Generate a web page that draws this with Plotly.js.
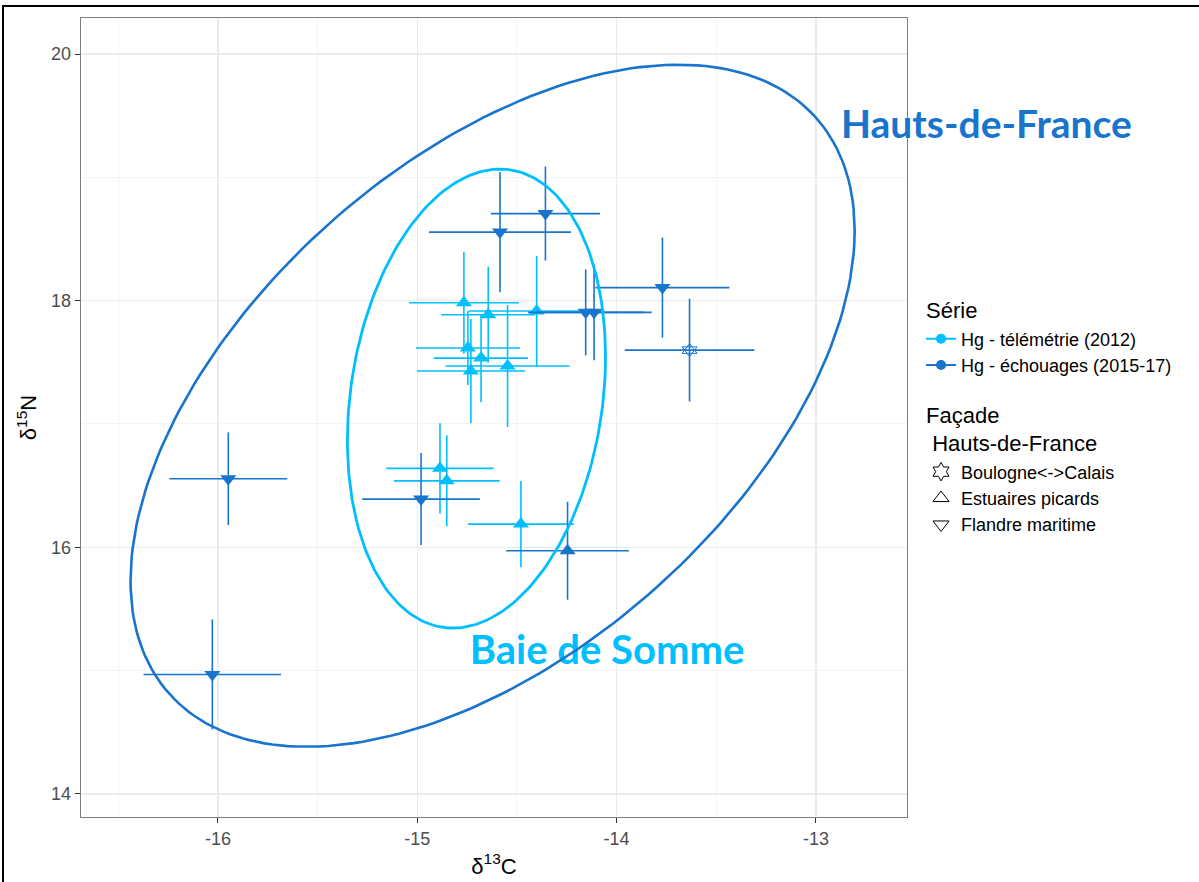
<!DOCTYPE html>
<html>
<head>
<meta charset="utf-8">
<script src="https://cdn.plot.ly/plotly-3.0.1.min.js"></script>
<style>
  html, body { margin: 0; padding: 0; background: #fff; }
  #chart { position: absolute; left: 0; top: 0; width: 1199px; height: 882px; }
  #frame { position: absolute; left: 2px; top: 5px; width: 1300px; height: 1000px;
           border-left: 2px solid #000; border-top: 2px solid #000; pointer-events: none; }
</style>
</head>
<body>
<div id="chart"></div>
<div id="frame"></div>
<script>
// ---- Data (δ13C, δ15N, sd) ----
// Hg - télémétrie (2012), Estuaires picards
const telemX    = [-14.766, -14.644, -14.401, -14.746, -14.680, -14.731, -14.547, -14.886, -14.852, -14.480];
const telemY    = [17.983, 17.886, 17.916, 17.616, 17.534, 17.429, 17.470, 16.640, 16.539, 16.188];
const telemXerr = [0.276, 0.236, 0.341, 0.261, 0.236, 0.271, 0.311, 0.269, 0.265, 0.266];
const telemYerr = [0.414, 0.389, 0.446, 0.300, 0.357, 0.422, 0.495, 0.365, 0.369, 0.349];

// Hg - échouages (2015-17), Flandre maritime
const echFlX    = [-14.981, -14.585, -14.357, -14.155, -14.113, -13.770, -15.948, -16.028];
const echFlY    = [16.391, 18.556, 18.706, 17.905, 17.905, 18.106, 16.556, 14.969];
const echFlXerr = [0.295, 0.356, 0.274, 0.289, 0.289, 0.336, 0.296, 0.345];
const echFlYerr = [0.373, 0.487, 0.381, 0.349, 0.389, 0.406, 0.376, 0.446];

// Hg - échouages (2015-17), Estuaires picards
const echEpX    = [-14.246];
const echEpY    = [15.972];
const echEpXerr = [0.308];
const echEpYerr = [0.397];

// Hg - échouages (2015-17), Boulogne<->Calais
const echBcX    = [-13.634];
const echBcY    = [17.599];
const echBcXerr = [0.325];
const echBcYerr = [0.416];

// Ellipses (centre and covariance [Sxx, Syy, Sxy])
const ellOuterCenter = [-14.622, 17.148];
const ellOuterCov    = [3.2997, 7.648, 2.578];
const ellInnerCenter = [-14.703, 17.206];
const ellInnerCov    = [0.4193, 3.463, 0.2196];

// Labels
const seriesNames = ['Hg - télémétrie (2012)', 'Hg - échouages (2015-17)'];
const siteNames   = ['Boulogne&lt;-&gt;Calais', 'Estuaires picards', 'Flandre maritime'];
const regionLabels = ['Hauts-de-France', 'Baie de Somme'];
const xTicks = [-16, -15, -14, -13];
const yTicks = [14, 16, 18, 20];

const C_LIGHT = '#00BFFF';
const C_DARK  = '#1874CD';

function ellipse(center, cov, n) {
  const sx = Math.sqrt(cov[0]);
  const k = cov[2] / sx;
  const m = Math.sqrt(cov[1] - cov[2] * cov[2] / cov[0]);
  const xs = [], ys = [];
  for (let i = 0; i <= n; i++) {
    const t = 2 * Math.PI * i / n;
    xs.push(center[0] + sx * Math.cos(t));
    ys.push(center[1] + k * Math.cos(t) + m * Math.sin(t));
  }
  return {x: xs, y: ys};
}

function errPts(x, y, xe, ye, color, symbol, size, open) {
  return {
    type: 'scatter', mode: 'markers', x: x, y: y, showlegend: false, hoverinfo: 'skip',
    error_x: {type: 'data', array: xe, visible: true, width: 0, thickness: 1.6, color: color},
    error_y: {type: 'data', array: ye, visible: true, width: 0, thickness: 1.6, color: color},
    marker: open
      ? {symbol: symbol, size: size, color: color, line: {color: color, width: 1}}
      : {symbol: symbol, size: size, color: color, line: {width: 0}}
  };
}

const eo = ellipse(ellOuterCenter, ellOuterCov, 240);
const ei = ellipse(ellInnerCenter, ellInnerCov, 240);

const traces = [
  // region label inside the panel (drawn under the lines)
  {type: 'scatter', mode: 'text', x: [-14.048], y: [15.135], text: [regionLabels[1]],
   textfont: {family: 'Lato', size: 40, color: C_LIGHT, weight: 700}, cliponaxis: false,
   showlegend: false, hoverinfo: 'skip'},
  errPts(telemX, telemY, telemXerr, telemYerr, C_LIGHT, 'triangle-up', 14, false),
  errPts(echEpX, echEpY, echEpXerr, echEpYerr, C_DARK, 'triangle-up', 14, false),
  errPts(echFlX, echFlY, echFlXerr, echFlYerr, C_DARK, 'triangle-down', 14, false),
  errPts(echBcX, echBcY, echBcXerr, echBcYerr, C_DARK, 'triangle-up-open', 13, true),
  {type: 'scatter', mode: 'markers', x: echBcX, y: echBcY, showlegend: false, hoverinfo: 'skip',
   marker: {symbol: 'triangle-down-open', size: 13, color: C_DARK, line: {color: C_DARK, width: 1}}},
  {type: 'scatter', mode: 'lines', x: eo.x, y: eo.y, line: {color: C_DARK, width: 2.6},
   showlegend: false, hoverinfo: 'skip'},
  {type: 'scatter', mode: 'lines', x: ei.x, y: ei.y, line: {color: C_LIGHT, width: 2.8},
   showlegend: false, hoverinfo: 'skip'},
  // legend entries
  {type: 'scatter', mode: 'lines+markers', x: [null], y: [null], name: seriesNames[0],
   legendgroup: 'serie', legendgrouptitle: {text: 'Série', font: {size: 22, color: '#000'}},
   line: {color: C_LIGHT, width: 2}, marker: {color: C_LIGHT, size: 10, symbol: 'circle'}},
  {type: 'scatter', mode: 'lines+markers', x: [null], y: [null], name: seriesNames[1],
   legendgroup: 'serie',
   line: {color: C_DARK, width: 2}, marker: {color: C_DARK, size: 10, symbol: 'circle'}},
  {type: 'scatter', mode: 'markers', x: [null], y: [null], name: siteNames[0],
   legendgroup: 'facade', legendgrouptitle: {text: 'Façade<br>\u00A0Hauts-de-France', font: {size: 22, color: '#000'}},
   marker: {symbol: 'hexagram-open', size: 14, color: '#000', line: {width: 1}}},
  {type: 'scatter', mode: 'markers', x: [null], y: [null], name: siteNames[1],
   legendgroup: 'facade',
   marker: {symbol: 'triangle-up-open', size: 14, color: '#000', line: {width: 1}}},
  {type: 'scatter', mode: 'markers', x: [null], y: [null], name: siteNames[2],
   legendgroup: 'facade',
   marker: {symbol: 'triangle-down-open', size: 14, color: '#000', line: {width: 1}}}
];

const axisCommon = {
  showline: true, mirror: true, linecolor: '#7F7F7F', linewidth: 1.3,
  ticks: 'outside', ticklen: 5, tickcolor: '#333', tickwidth: 1,
  showgrid: true, gridcolor: '#EBEBEB', gridwidth: 1.2, zeroline: false,
  tickfont: {family: 'Liberation Sans, Arial, sans-serif', size: 18, color: '#4D4D4D'},
  automargin: false
};

const layout = {
  width: 1199, height: 882,
  paper_bgcolor: '#fff', plot_bgcolor: '#fff',
  margin: {l: 81, r: 292, t: 18, b: 65, autoexpand: false},
  font: {family: 'Liberation Sans, Arial, sans-serif', color: '#000'},
  xaxis: Object.assign({}, axisCommon, {
    range: [-16.687, -12.543], tickvals: xTicks, ticktext: xTicks.map(String),
    minor: {dtick: 0.5, tick0: 0, showgrid: true, gridcolor: '#F4F4F4', gridwidth: 1, ticks: ''},
    title: {text: 'δ<sup>13</sup>C', font: {size: 22, color: '#000'}, standoff: 10}
  }),
  yaxis: Object.assign({}, axisCommon, {
    range: [13.813, 20.292], tickvals: yTicks, ticktext: yTicks.map(String),
    minor: {dtick: 1, tick0: 0, showgrid: true, gridcolor: '#F4F4F4', gridwidth: 1, ticks: ''},
    title: {text: 'δ<sup>15</sup>N', font: {size: 22, color: '#000'}, standoff: 8}
  }),
  annotations: [{
    xref: 'paper', yref: 'paper', x: 1.0962, y: 0.8686, text: regionLabels[0],
    showarrow: false, xanchor: 'center', yanchor: 'middle',
    font: {family: 'Lato', size: 39, color: C_DARK, weight: 700}
  }],
  showlegend: true,
  legend: {
    x: 1.017, y: 0.661, xanchor: 'left', yanchor: 'top',
    font: {size: 18, color: '#000'}, tracegroupgap: 20,
    traceorder: 'grouped', itemwidth: 30, bgcolor: 'rgba(0,0,0,0)'
  }
};

Plotly.newPlot('chart', traces, layout, {displayModeBar: false, staticPlot: true});
</script>
</body>
</html>
